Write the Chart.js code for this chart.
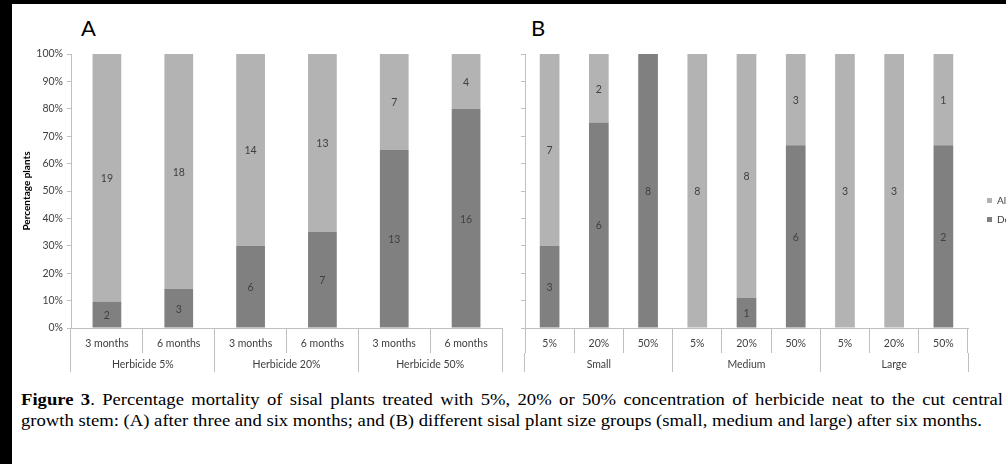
<!DOCTYPE html>
<html>
<head>
<meta charset="utf-8">
<script src="https://cdn.jsdelivr.net/npm/chart.js@4.4.1/dist/chart.umd.min.js"></script>
<style>
  html, body { margin: 0; padding: 0; background: #000; width: 1006px; height: 464px; overflow: hidden; }
  #page { position: absolute; left: 12px; top: 4px; right: 0; bottom: 0; background: #fff; }
  .panel { position: absolute; font: 22px Lato, sans-serif; color: #000; }
  #wrapA { position: absolute; left: 12px; top: 4px; width: 498px; height: 380px; }
  #wrapB { position: absolute; left: 505px; top: 4px; width: 520px; height: 380px; }
  #cap { position: absolute; left: 21px; top: 389px; font: 17px "Liberation Serif", serif; line-height: 21px; color: #000; transform-origin: 0 0; }
  #l1 { text-align: justify; text-align-last: justify; white-space: nowrap; }
  #l2 { white-space: nowrap; display: inline-block; }
</style>
</head>
<body>
<div id="page"></div>
<div class="panel" style="left:81px; top:14px;">A</div>
<div class="panel" style="left:531px; top:14px;">B</div>
<div id="wrapA"><canvas id="chartA"></canvas></div>
<div id="wrapB"><canvas id="chartB"></canvas></div>
<div id="cap">
  <div id="l1"><b>Figure 3</b>. Percentage mortality of sisal plants treated with 5%, 20% or 50% concentration of herbicide neat to the cut central</div>
  <div id="l2">growth stem: (A) after three and six months; and (B) different sisal plant size groups (small, medium and large) after six months.</div>
</div>
<script>
// panel A: time after treatment, by herbicide strength
var aMonths = ['3 months', '6 months', '3 months', '6 months', '3 months', '6 months'];
var aGroups = ['Herbicide 5%', 'Herbicide 20%', 'Herbicide 50%'];
var aDead = [2, 3, 6, 7, 13, 16];
var aAlive = [19, 18, 14, 13, 7, 4];

// panel B: plant size, by herbicide strength
var bConc = ['5%', '20%', '50%', '5%', '20%', '50%', '5%', '20%', '50%'];
var bGroups = ['Small', 'Medium', 'Large'];
var bDead = [3, 6, 8, 0, 1, 6, 0, 0, 2];
var bAlive = [7, 2, 0, 8, 8, 3, 3, 3, 1];

var seriesNames = ['Dead', 'Alive'];
var yTickStep = 10;

var lightGrey = '#b3b3b3';
var darkGrey = '#808080';
var axisGrey = '#bfbfbf';
var textGrey = '#404040';

Chart.defaults.font.family = 'Lato';
Chart.defaults.font.size = 10.5;
Chart.defaults.color = textGrey;

function share(part, other) {
    return part.map(function (v, i) {
        return v / (v + other[i]) * 100;
    });
}

// counts written in the middle of each segment (100% stacked, like Excel)
var countLabels = {
    id: 'countLabels',
    afterDatasetsDraw: function (chart) {
        var ctx = chart.ctx;
        ctx.save();
        ctx.font = '10.5px Lato';
        ctx.fillStyle = textGrey;
        ctx.textAlign = 'center';
        ctx.textBaseline = 'middle';
        chart.data.datasets.forEach(function (ds, i) {
            var meta = chart.getDatasetMeta(i);
            meta.data.forEach(function (bar, j) {
                var n = ds.counts[j];
                if (!n) return;
                ctx.fillText(n, bar.x, (bar.y + bar.base) / 2 + 1);
            });
        });
        ctx.restore();
    }
};

function makeChart(id, cats, groups, dead, alive, isB) {
    var ctx = document.getElementById(id);
    return new Chart(ctx, {
        type: 'bar',
        data: {
            labels: cats,
            datasets: [{
                label: seriesNames[0],
                data: share(dead, alive),
                counts: dead,
                backgroundColor: darkGrey,
                barPercentage: 0.4,
                categoryPercentage: 1
            }, {
                label: seriesNames[1],
                data: share(alive, dead),
                counts: alive,
                backgroundColor: lightGrey,
                barPercentage: 0.4,
                categoryPercentage: 1
            }]
        },
        plugins: [countLabels],
        options: {
            responsive: true,
            maintainAspectRatio: false,
            animation: false,
            layout: {
                padding: isB ? {top: 50, bottom: 7, left: 0, right: 11} : {top: 50, bottom: 7, left: 0, right: 8}
            },
            plugins: {
                tooltip: {enabled: false},
                legend: isB ? {
                    display: true,
                    position: 'right',
                    fullSize: false,
                    reverse: true,
                    maxWidth: 36,
                    title: {display: true, text: '', font: {size: 10}, padding: {top: 0, bottom: 26}},
                    labels: {boxWidth: 5, boxHeight: 5, padding: 9, color: textGrey, font: {size: 10}}
                } : {display: false}
            },
            scales: {
                x: {
                    stacked: true,
                    grid: {offset: true, drawOnChartArea: false, tickLength: 25, color: axisGrey},
                    border: {display: true, color: axisGrey},
                    ticks: {padding: -16, color: textGrey, maxRotation: 0, autoSkip: false},
                    afterFit: function (s) { s.height = 25; }
                },
                x2: {
                    type: 'category',
                    position: 'bottom',
                    weight: 1,
                    labels: groups,
                    offset: true,
                    grid: {offset: true, drawOnChartArea: false, tickLength: 19, color: axisGrey},
                    border: {display: false},
                    ticks: {padding: -14, color: textGrey, maxRotation: 0},
                    afterFit: function (s) { s.height = 24; }
                },
                y: {
                    stacked: true,
                    min: 0,
                    max: 100,
                    grid: {drawOnChartArea: false, tickLength: 4, color: axisGrey},
                    border: {display: true, color: axisGrey},
                    ticks: {
                        display: !isB,
                        stepSize: yTickStep,
                        padding: 4,
                        color: textGrey,
                        callback: function (v) { return v + '%'; }
                    },
                    title: {
                        display: !isB,
                        text: 'Percentage plants',
                        color: '#000',
                        font: {size: 10, weight: 'bold'},
                        padding: {top: 9, bottom: 0}
                    },
                    afterFit: function (s) { s.width = isB ? 20 : 59; }
                },
                yR: isB ? {
                    position: 'right',
                    display: true,
                    grid: {display: false},
                    ticks: {display: false},
                    border: {display: false},
                    afterFit: function (s) { s.width = 10; }
                } : undefined
            }
        }
    });
}

var chartA = makeChart('chartA', aMonths, aGroups, aDead, aAlive, false);
var chartB = makeChart('chartB', bConc, bGroups, bDead, bAlive, true);

// caption: squeezed a little, first line justified
var l2 = document.getElementById('l2');
var s = 961 / l2.getBoundingClientRect().width;
var cap = document.getElementById('cap');
cap.style.transform = 'scaleX(' + s + ')';
document.getElementById('l1').style.width = (982 / s) + 'px';
l2.style.display = 'block';
</script>
</body>
</html>
